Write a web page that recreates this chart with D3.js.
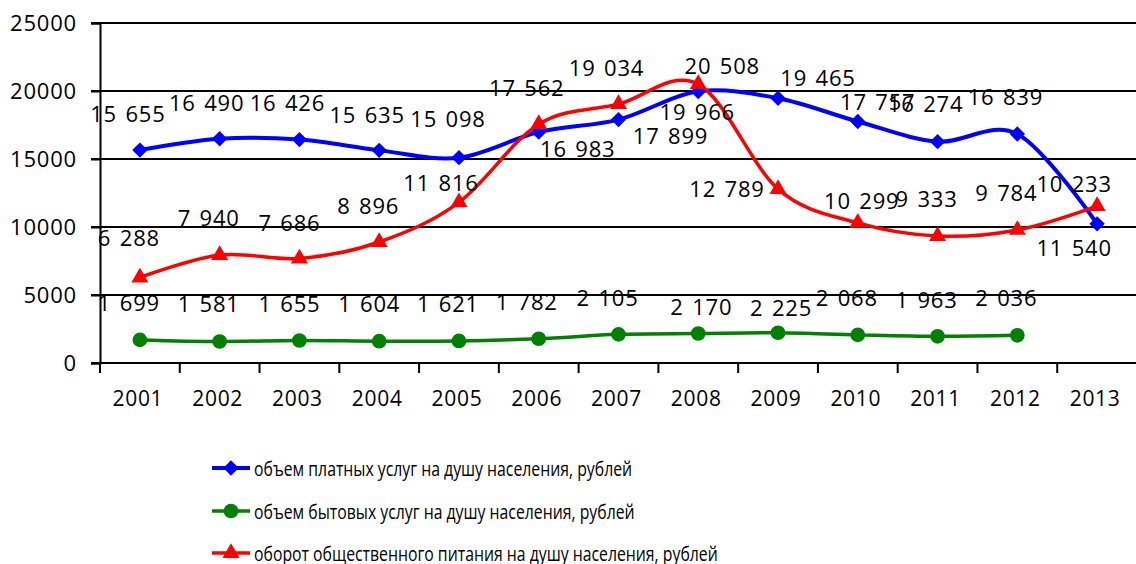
<!DOCTYPE html>
<html>
<head>
<meta charset="utf-8">
<script src="https://cdn.jsdelivr.net/npm/d3@7"></script>
<style>
  body { margin: 0; background: #fff; }
  svg { display: block; font-family: "Open Sans", "Noto Sans", sans-serif; }
</style>
</head>
<body>
<div id="chart"></div>
<script>
// data
const years = ["2001", "2002", "2003", "2004", "2005", "2006", "2007",
               "2008", "2009", "2010", "2011", "2012", "2013"];
const paidServices = [15655, 16490, 16426, 15635, 15098, 16983, 17899,
                      19966, 19465, 17757, 16274, 16839, 10233];
const consumerServices = [1699, 1581, 1655, 1604, 1621, 1782, 2105,
                          2170, 2225, 2068, 1963, 2036, null];
const catering = [6288, 7940, 7686, 8896, 11816, 17562, 19034,
                  20508, 12789, 10299, 9333, 9784, 11540];
const yTicks = [0, 5000, 10000, 15000, 20000, 25000];
const seriesNames = [
    "объем платных услуг на душу населения, рублей",
    "объем бытовых услуг на душу населения, рублей",
    "оборот общественного питания на душу населения, рублей"
];

// where each value label sits relative to its marker (dx, dy in px)
const paidLabelShift = [[-12,-37],[-13,-37],[-12,-38],[-12,-36],[-11,-40],[39,16],[52,15],
                        [-1,20],[40,-21],[20,-21],[-12,-39],[-12,-38],[-23,-41]];
const consumerLabelShift = [[-11,-38],[-11,-38],[-10,-37],[-10,-38],[-11,-38],[-12,-38],[-11,-37],
                            [3,-27],[3,-26],[-11,-38],[-11,-37],[-11,-38],[0,0]];
const cateringLabelShift = [[-11,-40],[-11,-38],[-10,-36],[-11,-37],[-18,-20],[-12,-37],[-12,-37],
                            [24,-19],[-51,-1],[4,-23],[-11,-38],[-11,-38],[-23,41]];

const width = 1136, height = 564;

const svg = d3.select("#chart")
    .append("svg")
    .attr("width", width)
    .attr("height", height);

const x = d3.scaleBand()
    .domain(years)
    .range([100, 1137])
    .paddingInner(0)
    .paddingOuter(0);

const y = d3.scaleLinear()
    .domain([0, 25000])
    .range([363, 23]);

const fmt = v => d3.format(",")(v).replace(/,/g, " ");

// horizontal gridlines (including the stub left of the axis)
svg.append("g")
    .selectAll("line")
    .data(yTicks)
    .join("line")
    .attr("x1", 91)
    .attr("x2", width)
    .attr("y1", d => y(d))
    .attr("y2", d => y(d))
    .attr("stroke", "#000")
    .attr("stroke-width", 2);

// y axis
const yAxis = svg.append("g")
    .attr("transform", "translate(100,0)")
    .call(d3.axisLeft(y).tickValues(yTicks).tickSize(9).tickPadding(14).tickFormat(d => d));
yAxis.select(".domain").attr("stroke", "#000").attr("stroke-width", 2);
yAxis.selectAll(".tick line").attr("stroke", "#000").attr("stroke-width", 2);
yAxis.selectAll("text")
    .attr("font-size", "22px")
    .attr("letter-spacing", "0.8px")
    .attr("fill", "#000")
    .attr("font-family", "'Open Sans', sans-serif");

// x axis: labels centred in bands, ticks on band boundaries
const xAxis = svg.append("g")
    .attr("transform", "translate(0,363)")
    .call(d3.axisBottom(x).tickSize(0).tickPadding(28));
xAxis.select(".domain").remove();
xAxis.selectAll("text")
    .attr("font-size", "21px")
    .attr("letter-spacing", "0.7px")
    .attr("fill", "#000")
    .attr("dx", "-2px")
    .attr("font-family", "'Open Sans', sans-serif");

svg.append("line")
    .attr("x1", 100).attr("x2", width)
    .attr("y1", y(0)).attr("y2", y(0))
    .attr("stroke", "#000").attr("stroke-width", 2);

svg.append("g")
    .selectAll("line")
    .data(years)
    .join("line")
    .attr("x1", d => x(d))
    .attr("x2", d => x(d))
    .attr("y1", y(0))
    .attr("y2", y(0) + 10)
    .attr("stroke", "#000")
    .attr("stroke-width", 2);

const cx = i => x(years[i]) + x.bandwidth() / 2;

const series = [
    { values: paidServices, color: "#0000ff", symbol: d3.symbolDiamond2, size: 150, width: 4, shift: paidLabelShift },
    { values: consumerServices, color: "#008000", symbol: d3.symbolCircle, size: 170, width: 3.5, shift: consumerLabelShift },
    { values: catering, color: "#ff0000", symbol: d3.symbolTriangle, size: 125, width: 3.5, shift: cateringLabelShift }
];

const line = d3.line()
    .defined(d => d != null)
    .x((d, i) => cx(i))
    .y(d => y(d))
    .curve(d3.curveCardinal.tension(0));

// draw lines first, then markers, then labels
series.forEach(s => {
    svg.append("path")
        .datum(s.values)
        .attr("d", line)
        .attr("fill", "none")
        .attr("stroke", s.color)
        .attr("stroke-width", s.width)
        .attr("stroke-linejoin", "round");
});

series.forEach(s => {
    svg.append("g")
        .selectAll("path")
        .data(s.values.map((v, i) => ({ v, i })).filter(d => d.v != null))
        .join("path")
        .attr("d", d3.symbol().type(s.symbol).size(s.size))
        .attr("transform", d => `translate(${cx(d.i)},${y(d.v)})`)
        .attr("fill", s.color);
});

series.forEach(s => {
    svg.append("g")
        .selectAll("text")
        .data(s.values.map((v, i) => ({ v, i })).filter(d => d.v != null))
        .join("text")
        .attr("x", d => cx(d.i) + s.shift[d.i][0])
        .attr("y", d => y(d.v) + s.shift[d.i][1])
        .attr("text-anchor", "middle")
        .attr("dominant-baseline", "central")
        .attr("font-size", "22px")
        .attr("letter-spacing", "0.8px")
        .attr("word-spacing", "2px")
        .attr("fill", "#000")
        .text(d => fmt(d.v));
});

// legend
const legendRows = [468, 511, 553];
const legend = svg.append("g");
series.forEach((s, i) => {
    const g = legend.append("g").attr("transform", `translate(0,${legendRows[i]})`);
    g.append("line")
        .attr("x1", 212).attr("x2", 250)
        .attr("y1", 0).attr("y2", 0)
        .attr("stroke", s.color)
        .attr("stroke-width", s.width);
    g.append("path")
        .attr("d", d3.symbol().type(s.symbol).size(s.size))
        .attr("transform", "translate(231,0)")
        .attr("fill", s.color);
    // the source font is narrow, so squeeze the text horizontally
    g.append("text")
        .attr("transform", "translate(254,0) scale(0.79,1)")
        .attr("dominant-baseline", "central")
        .attr("font-size", "20px")
        .attr("fill", "#000")
        .text(seriesNames[i]);
});
</script>
</body>
</html>
